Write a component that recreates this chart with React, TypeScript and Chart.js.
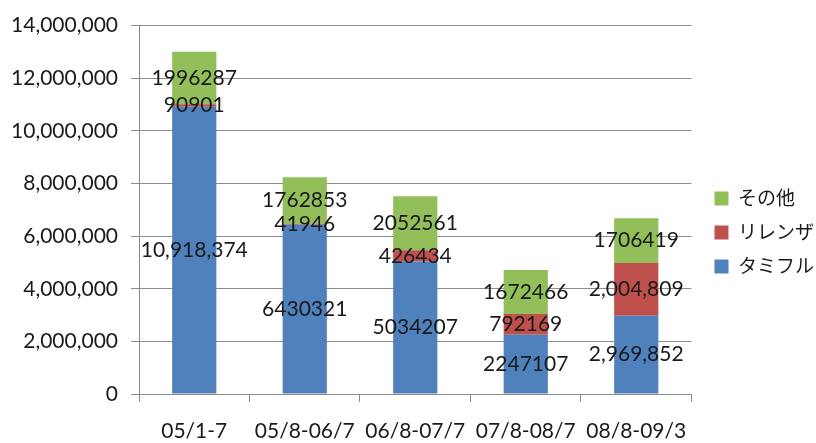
import React, { useEffect, useRef } from "react";
import { Chart, registerables } from "chart.js";

Chart.register(...registerables);

const categories = ["05/1-7", "05/8-06/7", "06/8-07/7", "07/8-08/7", "08/8-09/3"];
const tamiflu = [10918374, 6430321, 5034207, 2247107, 2969852];
const relenza = [90901, 41946, 426434, 792169, 2004809];
const others = [1996287, 1762853, 2052561, 1672466, 1706419];
const tamifluLabels = ["10,918,374", "6430321", "5034207", "2247107", "2,969,852"];
const relenzaLabels = ["90901", "41946", "426434", "792169", "2,004,809"];
const othersLabels = ["1996287", "1762853", "2052561", "1672466", "1706419"];
const yTicks = [0, 2000000, 4000000, 6000000, 8000000, 10000000, 12000000, 14000000];

const FONT = "Lato, 'Noto Sans CJK JP', sans-serif";
const TEXT = "#1a1a1a";
const GRID = "#8c8c8c";
const LEGEND_SHIFT = 8;

const labelPlugin = {
  id: "segLabels",
  afterDatasetsDraw(chart: any) {
    const ctx = chart.ctx;
    ctx.save();
    ctx.font = `21px ${FONT}`;
    ctx.fillStyle = TEXT;
    ctx.textAlign = "center";
    ctx.textBaseline = "middle";
    chart.data.datasets.forEach((ds: any, di: number) => {
      const meta = chart.getDatasetMeta(di);
      meta.data.forEach((el: any, i: number) => {
        const y = (el.y + el.base) / 2;
        ctx.fillText(ds.segLabels[i], el.x, y);
      });
    });
    ctx.restore();
  },
};

const legendShiftPlugin = {
  id: "legendShift",
  afterLayout(chart: any) {
    if (chart.legend) {
      chart.legend.left += LEGEND_SHIFT;
      chart.legend.right += LEGEND_SHIFT;
    }
  },
};

export default function App() {
  const ref = useRef<HTMLCanvasElement>(null);
  useEffect(() => {
    const chart = new Chart(ref.current!, {
      type: "bar",
      data: {
        labels: categories,
        datasets: [
          { label: "タミフル", data: tamiflu, backgroundColor: "#4F81BD", segLabels: tamifluLabels } as any,
          { label: "リレンザ", data: relenza, backgroundColor: "#C0504D", segLabels: relenzaLabels } as any,
          { label: "その他", data: others, backgroundColor: "#92BF5A", segLabels: othersLabels } as any,
        ],
      },
      options: {
        animation: false,
        responsive: true,
        maintainAspectRatio: false,
        layout: { padding: { left: 0, right: 0, top: 22, bottom: 0 } },
        datasets: { bar: { categoryPercentage: 1, barPercentage: 0.4 } },
        scales: {
          x: {
            stacked: true,
            grid: { drawOnChartArea: false, color: GRID, tickLength: 8, offset: true },
            border: { color: GRID },
            ticks: { color: TEXT, font: { family: FONT, size: 21 }, padding: 17, maxRotation: 0 },
            afterFit: (s: any) => { s.height = 49; },
          },
          y: {
            stacked: true,
            min: 0,
            max: 14000000,
            afterBuildTicks: (s: any) => { s.ticks = yTicks.map((v) => ({ value: v })); },
            grid: { color: GRID, tickLength: 8 },
            border: { color: GRID },
            ticks: {
              color: TEXT,
              font: { family: FONT, size: 21 },
              padding: 13,
              callback: (v: any) => Number(v).toLocaleString("en-US"),
            },
            afterFit: (s: any) => { s.width = 139; },
          },
        },
        plugins: {
          legend: {
            position: "right",
            reverse: true,
            labels: {
              color: TEXT,
              font: { family: FONT, size: 19 },
              boxWidth: 14,
              boxHeight: 14,
              padding: 15,
            },
          },
          tooltip: { enabled: false },
        },
      },
      plugins: [labelPlugin, legendShiftPlugin],
    });
    return () => chart.destroy();
  }, []);
  return (
    <div style={{ position: "fixed", left: 0, top: 0, width: 816, height: 443, background: "#fff" }}>
      <canvas ref={ref} />
    </div>
  );
}
